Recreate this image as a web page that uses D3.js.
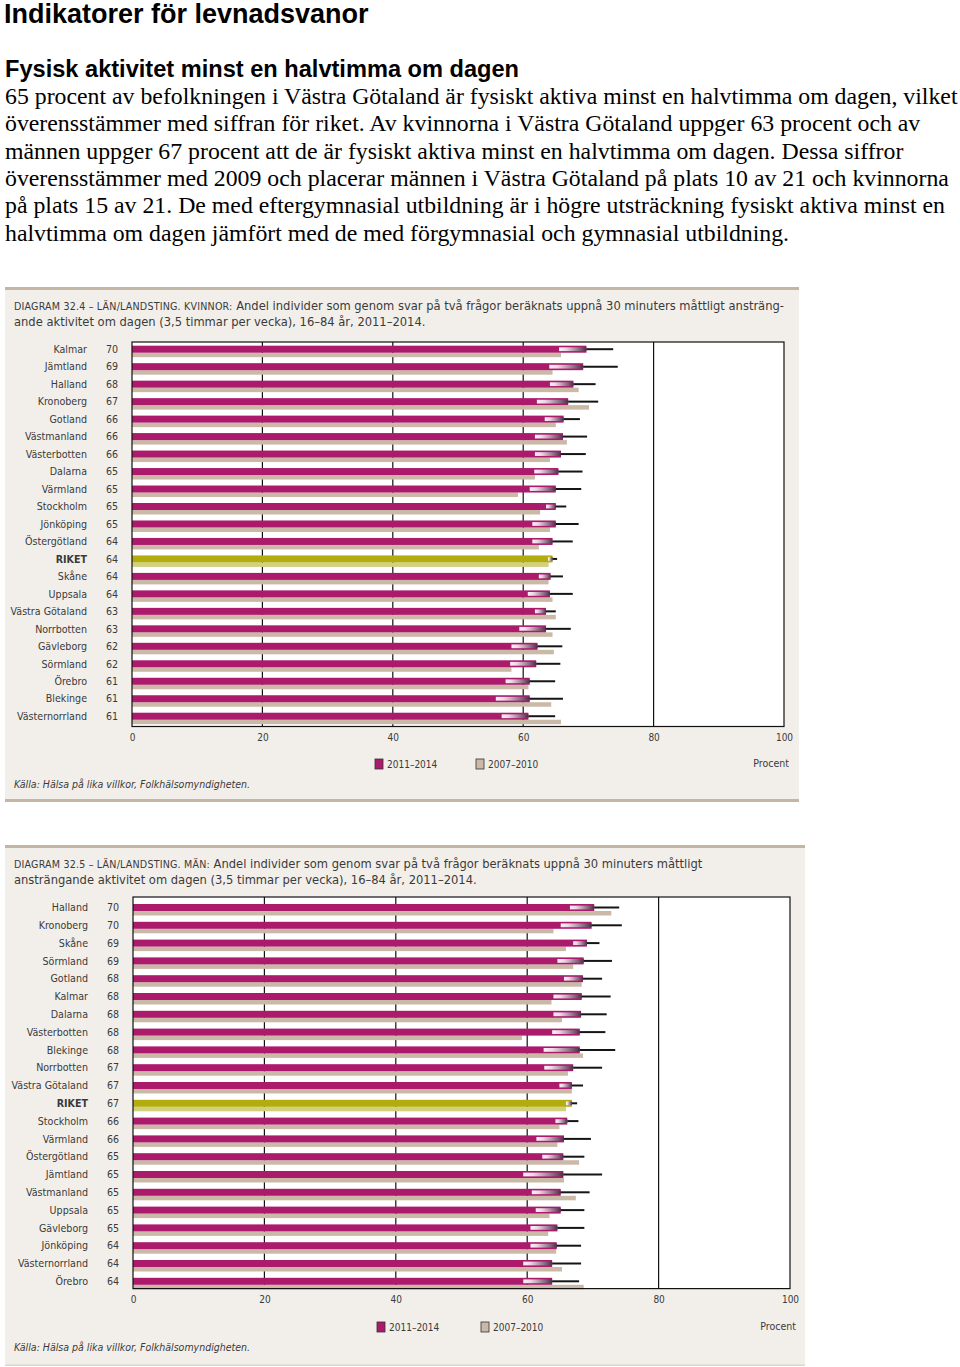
<!DOCTYPE html>
<html><head><meta charset="utf-8">
<script src="https://cdn.jsdelivr.net/npm/d3@7"></script>
<style>body{margin:0;background:#fff}svg{display:block}</style>
</head><body><svg id="c" width="960" height="1367"></svg>
<script>
// ---------- text ----------
const pageTitle = "Indikatorer för levnadsvanor";
const sectionTitle = "Fysisk aktivitet minst en halvtimma om dagen";
const paragraphLines = [
  "65 procent av befolkningen i Västra Götaland är fysiskt aktiva minst en halvtimma om dagen, vilket",
  "överensstämmer med siffran för riket. Av kvinnorna i Västra Götaland uppger 63 procent och av",
  "männen uppger 67 procent att de är fysiskt aktiva minst en halvtimma om dagen. Dessa siffror",
  "överensstämmer med 2009 och placerar männen i Västra Götaland på plats 10 av 21 och kvinnorna",
  "på plats 15 av 21. De med eftergymnasial utbildning är i högre utsträckning fysiskt aktiva minst en",
  "halvtimma om dagen jämfört med de med förgymnasial och gymnasial utbildning."
];
const womenCaption = [
  ["Diagram 32.4 – Län/Landsting. Kvinnor:", " Andel individer som genom svar på två frågor beräknats uppnå 30 minuters måttligt ansträng-"],
  ["", "ande aktivitet om dagen (3,5 timmar per vecka), 16–84 år, 2011–2014."]
];
const menCaption = [
  ["Diagram 32.5 – Län/Landsting. Män:", " Andel individer som genom svar på två frågor beräknats uppnå 30 minuters måttligt"],
  ["", "ansträngande aktivitet om dagen (3,5 timmar per vecka), 16–84 år, 2011–2014."]
];
const sourceText = "Källa: Hälsa på lika villkor, Folkhälsomyndigheten.";
const legendLabels = ["2011–2014", "2007–2010"];
const unitLabel = "Procent";
const xTicks = [0, 20, 40, 60, 80, 100];

// ---------- data: women ----------
const womenRegions = ["Kalmar","Jämtland","Halland","Kronoberg","Gotland","Västmanland","Västerbotten","Dalarna","Värmland","Stockholm","Jönköping","Östergötland","RIKET","Skåne","Uppsala","Västra Götaland","Norrbotten","Gävleborg","Sörmland","Örebro","Blekinge","Västernorrland"];
const womenLabels  = [70,69,68,67,66,66,66,65,65,65,65,64,64,64,64,63,63,62,62,61,61,61];
const womenValues  = [69.7,69.2,67.7,66.9,66.2,66.1,65.8,65.4,65.0,65.0,65.0,64.5,64.5,64.2,64.1,63.5,63.5,62.2,62.0,61.0,61.0,60.8];
const womenLow     = [65.5,64.0,64.1,62.1,63.3,61.8,61.8,61.7,61.0,63.5,61.4,61.4,63.8,62.4,60.7,61.8,59.4,58.2,58.0,57.3,55.8,56.7];
const womenHigh    = [73.8,74.5,71.1,71.5,68.7,69.8,69.6,69.1,68.9,66.6,68.5,67.6,65.2,66.1,67.6,65.0,67.3,66.0,65.7,64.9,66.1,64.9];
const womenPrev    = [65.8,64.5,68.5,70.1,65.0,66.7,64.1,61.8,59.2,62.6,64.1,62.4,63.9,63.9,64.5,65.0,64.5,64.7,58.2,60.8,64.3,65.8];

// ---------- data: men ----------
const menRegions = ["Halland","Kronoberg","Skåne","Sörmland","Gotland","Kalmar","Dalarna","Västerbotten","Blekinge","Norrbotten","Västra Götaland","RIKET","Stockholm","Värmland","Östergötland","Jämtland","Västmanland","Uppsala","Gävleborg","Jönköping","Västernorrland","Örebro"];
const menLabels  = [70,70,69,69,68,68,68,68,68,67,67,67,66,66,65,65,65,65,65,64,64,64];
const menValues  = [70.2,69.8,69.1,68.6,68.5,68.3,68.2,68.0,68.0,67.0,66.8,66.8,66.1,65.6,65.5,65.5,65.1,65.1,64.6,64.5,63.8,63.8];
const menLow     = [66.5,65.1,67.0,64.6,65.6,64.0,64.0,63.8,62.5,62.6,64.9,65.9,64.3,61.4,62.3,59.4,60.7,61.3,60.5,60.5,59.4,59.4];
const menHigh    = [74.0,74.4,71.0,72.9,71.4,72.7,72.1,71.9,73.4,71.4,68.5,67.6,67.8,69.7,68.7,71.4,69.5,68.7,68.7,68.2,68.2,67.9];
const menPrev    = [72.8,64.0,65.9,67.0,68.3,63.7,65.3,59.2,68.5,66.2,66.8,65.9,64.9,64.6,67.9,65.6,67.4,63.4,63.2,64.4,65.3,68.6];

// ---------- styles ----------
const C = {
  magenta: "#ac1a6c", tan: "#cbb9a8", olive: "#b2ad0c", oliveLight: "#d3cf80",
  panel: "#f2efea", border: "#c4b6a5", text: "#3a3a3a", gradDark: "#4a2e47"
};
const condensed = "'DejaVu Sans Condensed', 'DejaVu Sans', sans-serif";

const svg = d3.select("#c");
svg.append("rect").attr("width", 960).attr("height", 1367).attr("fill", "#fff");

// ---------- header ----------
svg.append("text").attr("x", 4).attr("y", 23)
  .attr("font-family", "'Liberation Sans', Arial, sans-serif").attr("font-weight", "bold")
  .attr("font-size", 27).attr("fill", "#000").text(pageTitle);
svg.append("text").attr("x", 5).attr("y", 77)
  .attr("font-family", "'Liberation Sans', Arial, sans-serif").attr("font-weight", "bold")
  .attr("font-size", 23.6).attr("fill", "#000").text(sectionTitle);
svg.append("g").selectAll("text").data(paragraphLines).join("text")
  .attr("x", 5).attr("y", (d, i) => 104 + i * 27.3)
  .attr("font-family", "'Liberation Serif', 'Times New Roman', serif")
  .attr("font-size", 23.8).attr("fill", "#000").text(d => d);

const defs = svg.append("defs");
const grad = defs.append("linearGradient").attr("id", "ciGrad")
  .attr("x1", "0%").attr("x2", "100%").attr("y1", "0%").attr("y2", "0%");
grad.append("stop").attr("offset", "0%").attr("stop-color", "#ffffff").attr("stop-opacity", 0.95);
grad.append("stop").attr("offset", "25%").attr("stop-color", "#f4e6f0").attr("stop-opacity", 0.92);
grad.append("stop").attr("offset", "100%").attr("stop-color", C.gradDark).attr("stop-opacity", 1);

function drawPanel(cfg) {
  const g = svg.append("g");
  // panel background & borders
  g.append("rect").attr("x", cfg.left).attr("y", cfg.top).attr("width", cfg.right - cfg.left)
    .attr("height", cfg.bottom - cfg.top).attr("fill", C.panel);
  g.append("rect").attr("x", cfg.left).attr("y", cfg.top).attr("width", cfg.right - cfg.left)
    .attr("height", 3).attr("fill", C.border);
  g.append("rect").attr("x", cfg.left).attr("y", cfg.bottom - cfg.bottomBorder).attr("width", cfg.right - cfg.left)
    .attr("height", cfg.bottomBorder).attr("fill", cfg.bottomColor);

  // caption
  cfg.caption.forEach((line, i) => {
    const t = g.append("text").attr("x", 14).attr("y", cfg.top + 23 + i * 15.5)
      .attr("font-family", condensed).attr("font-size", 12.8).attr("fill", C.text);
    if (line[0]) t.append("tspan").attr("font-size", 10.6).attr("letter-spacing", 0.2).text(line[0].toUpperCase());
    t.append("tspan").text(line[1]);
  });

  const x = d3.scaleLinear().domain([0, 100]).range([cfg.x0, cfg.x1]);
  const y = d3.scaleBand().domain(cfg.regions).range([cfg.plotTop, cfg.plotBottom]);

  // plot area
  g.append("rect").attr("x", x(0)).attr("y", cfg.plotTop).attr("width", x(100) - x(0))
    .attr("height", cfg.plotBottom - cfg.plotTop).attr("fill", "#fff");
  // gridlines
  g.append("g").selectAll("line").data(xTicks.filter(d => d > 0 && d < 100)).join("line")
    .attr("x1", d => x(d)).attr("x2", d => x(d))
    .attr("y1", cfg.plotTop).attr("y2", cfg.plotBottom)
    .attr("stroke", "#111").attr("stroke-width", 1.2);

  const idx = d3.range(cfg.regions.length);
  const isRiket = i => cfg.regions[i] === "RIKET";
  const mY = i => y(cfg.regions[i]) + cfg.offset;

  // previous period (tan)
  g.append("g").selectAll("rect").data(idx).join("rect")
    .attr("x", x(0)).attr("y", i => mY(i) + 7)
    .attr("width", i => x(cfg.prev[i]) - x(0)).attr("height", 4.5)
    .attr("fill", i => isRiket(i) ? C.oliveLight : C.tan);
  // current period (magenta)
  g.append("g").selectAll("rect").data(idx).join("rect")
    .attr("x", x(0)).attr("y", i => mY(i))
    .attr("width", i => x(cfg.values[i]) - x(0)).attr("height", 7)
    .attr("fill", i => isRiket(i) ? C.olive : C.magenta);
  // CI lower part (gradient)
  g.append("g").selectAll("rect").data(idx).join("rect")
    .attr("x", i => x(cfg.low[i])).attr("y", i => mY(i) + 1.6)
    .attr("width", i => x(cfg.values[i]) - x(cfg.low[i])).attr("height", 3.8)
    .attr("fill", "url(#ciGrad)");
  // CI upper part (black whisker)
  g.append("g").selectAll("line").data(idx).join("line")
    .attr("x1", i => x(cfg.values[i])).attr("x2", i => x(cfg.high[i]))
    .attr("y1", i => mY(i) + 3.5).attr("y2", i => mY(i) + 3.5)
    .attr("stroke", "#151515").attr("stroke-width", 2);

  // frame
  g.append("rect").attr("x", x(0)).attr("y", cfg.plotTop).attr("width", x(100) - x(0))
    .attr("height", cfg.plotBottom - cfg.plotTop).attr("fill", "none")
    .attr("stroke", "#111").attr("stroke-width", 1.2);

  // region labels & values
  g.append("g").selectAll("text").data(idx).join("text")
    .attr("x", cfg.labelX).attr("y", i => mY(i) + 3.5).attr("dy", "0.35em")
    .attr("text-anchor", "end").attr("font-family", condensed).attr("font-size", 10.6)
    .attr("font-weight", i => isRiket(i) ? "bold" : "normal")
    .attr("fill", C.text).text(i => cfg.regions[i]);
  g.append("g").selectAll("text").data(idx).join("text")
    .attr("x", cfg.valueX).attr("y", i => mY(i) + 3.5).attr("dy", "0.35em")
    .attr("font-family", condensed).attr("font-size", 10.6)
    .attr("fill", C.text).text(i => cfg.labels[i]);

  // x axis
  const axis = d3.axisBottom(x).tickValues(xTicks).tickSize(0).tickPadding(0);
  const ag = g.append("g").attr("transform", `translate(0,${cfg.plotBottom + 14})`).call(axis);
  ag.select(".domain").remove();
  ag.selectAll("text").attr("font-family", condensed).attr("font-size", 10).attr("fill", C.text).attr("dy", 0);

  // legend
  const ly = cfg.legendY;
  [[cfg.legendX[0], C.magenta, legendLabels[0]], [cfg.legendX[1], C.tan, legendLabels[1]]].forEach(([lx, col, lab]) => {
    g.append("rect").attr("x", lx).attr("y", ly - 5).attr("width", 8).attr("height", 10)
      .attr("fill", col).attr("stroke", "#333").attr("stroke-width", 0.8);
    g.append("text").attr("x", lx + 12).attr("y", ly).attr("dy", "0.35em")
      .attr("font-family", condensed).attr("font-size", 10).attr("fill", C.text).text(lab);
  });
  g.append("text").attr("x", cfg.procentX).attr("y", ly - 1).attr("dy", "0.35em").attr("text-anchor", "end")
    .attr("font-family", condensed).attr("font-size", 10.5).attr("fill", C.text).text(unitLabel);
  g.append("text").attr("x", 14).attr("y", cfg.sourceY).attr("dy", "0.35em")
    .attr("font-family", condensed).attr("font-style", "italic").attr("font-size", 10.5)
    .attr("fill", C.text).text(sourceText);
}

drawPanel({
  left: 5, right: 799, top: 287, bottom: 802, bottomBorder: 3, bottomColor: C.border,
  caption: womenCaption,
  x0: 132, x1: 784, plotTop: 342, plotBottom: 726.5, offset: 3.7,
  regions: womenRegions, labels: womenLabels, values: womenValues, low: womenLow, high: womenHigh, prev: womenPrev,
  labelX: 87, valueX: 106, legendY: 764, legendX: [375, 476], procentX: 789, sourceY: 784
});
drawPanel({
  left: 5, right: 805, top: 845, bottom: 1366, bottomBorder: 1.5, bottomColor: "#ddd5cb",
  caption: menCaption,
  x0: 133, x1: 790, plotTop: 897, plotBottom: 1288.6, offset: 7,
  regions: menRegions, labels: menLabels, values: menValues, low: menLow, high: menHigh, prev: menPrev,
  labelX: 88, valueX: 107, legendY: 1327, legendX: [377, 481], procentX: 796, sourceY: 1347
});
</script></body></html>
